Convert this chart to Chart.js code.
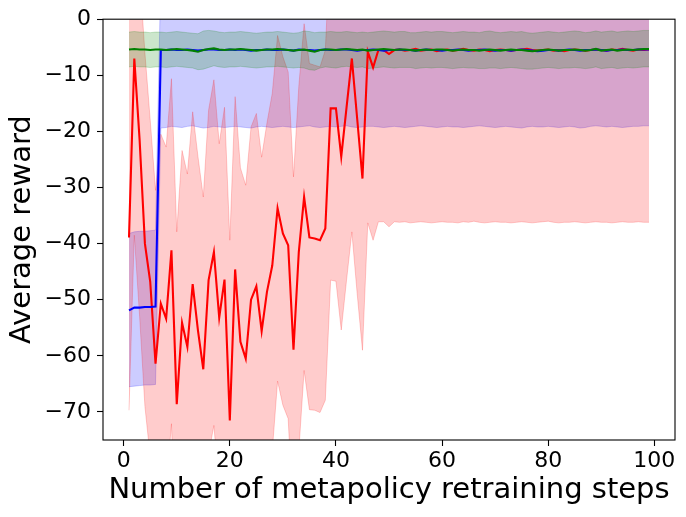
<!DOCTYPE html>
<html>
<head>
<meta charset="utf-8">
<script src="https://cdn.jsdelivr.net/npm/chart.js@4"></script>
<style>
html,body{margin:0;padding:0;background:#fff;}
#wrap{width:686px;height:517px;}
</style>
</head>
<body>
<div id="wrap"><canvas id="c" width="686" height="517"></canvas></div>
<script>
const steps = [1,2,3,4,5,6,7,8,9,10,11,12,13,14,15,16,17,18,19,20,21,22,23,24,25,26,27,28,29,30,31,32,33,34,35,36,37,38,39,40,41,42,43,44,45,46,47,48,49,50,51,52,53,54,55,56,57,58,59,60,61,62,63,64,65,66,67,68,69,70,71,72,73,74,75,76,77,78,79,80,81,82,83,84,85,86,87,88,89,90,91,92,93,94,95,96,97,98,99];

const redMean = [
-38.9,-7.0,-21.5,-40.0,-46.8,-61.4,-50.7,-53.4,-41.2,-68.6,
-54.1,-58.4,-47.2,-55.5,-62.4,-46.5,-41.5,-53.2,-46.4,-71.5,
-44.6,-57.5,-60.5,-50.0,-47.6,-55.6,-48.6,-43.9,-33.7,-38.2,
-40.3,-58.9,-41.5,-31.7,-38.9,-39.1,-39.4,-37.3,-15.9,-15.9,
-24.5,-15.7,-7.0,-17.7,-28.4,-5.8,-8.6,-5.5,-5.5,-6.2,
-5.5,-5.4,-5.6,-5.5,-5.3,-5.6,-5.5,-5.4,-5.7,-5.5,
-5.4,-5.6,-5.5,-5.3,-5.5,-5.6,-5.4,-5.5,-5.7,-5.5,
-5.4,-5.5,-5.6,-5.5,-5.4,-5.3,-5.5,-5.6,-5.5,-5.4,
-5.6,-5.5,-5.7,-5.5,-5.4,-5.5,-5.6,-5.5,-5.4,-5.5,
-5.6,-5.4,-5.5,-5.3,-5.5,-5.6,-5.4,-5.5,-5.4];

const redUpper = [
5.0,24.0,8.0,-6.0,-18.0,-30.5,-20.5,-22.8,-10.6,-37.9,
-23.4,-27.6,-16.5,-24.5,-31.7,-16.2,-10.8,-22.2,-15.7,-39.4,
-13.8,-26.5,-29.6,-19.2,-16.8,-24.6,-18.5,-13.2,-2.9,-6.7,
-9.4,-28.1,-12.0,-0.8,-7.9,-8.2,-8.5,-5.5,15.1,15.1,
6.5,15.3,24.0,13.3,2.4,25.2,22.4,25.5,25.5,24.8,
25.5,25.6,25.4,25.5,25.7,25.4,25.5,25.6,25.3,25.5,
25.6,25.4,25.5,25.7,25.5,25.4,25.6,25.5,25.3,25.5,
25.6,25.5,25.4,25.5,25.6,25.7,25.5,25.4,25.5,25.6,
25.4,25.5,25.3,25.5,25.6,25.5,25.4,25.5,25.6,25.5,
25.4,25.6,25.5,25.7,25.5,25.4,25.6,25.5,25.6];

const redLower = [
-69.7,-38.5,-53.0,-69.0,-78.0,-92.0,-82.0,-84.0,-72.1,-100.0,
-85.0,-89.0,-78.0,-87.0,-93.0,-77.5,-72.4,-84.0,-77.5,-103.0,
-76.0,-88.0,-91.0,-81.0,-78.6,-87.0,-80.0,-77.0,-64.5,-68.8,
-71.2,-90.0,-77.0,-62.6,-69.6,-69.7,-70.1,-67.9,-46.5,-46.7,
-55.4,-46.5,-37.9,-48.9,-59.0,-36.3,-39.4,-36.1,-36.1,-37.0,
-36.1,-36.2,-36.1,-36.3,-36.2,-36.1,-36.2,-36.3,-36.2,-36.1,
-36.2,-36.2,-36.3,-36.1,-36.2,-36.0,-36.2,-36.3,-36.2,-36.1,
-36.2,-36.2,-36.3,-36.2,-36.1,-36.2,-36.3,-36.2,-36.1,-36.0,
-36.2,-36.3,-36.2,-36.2,-36.1,-36.2,-36.3,-36.2,-36.1,-36.2,
-36.2,-36.3,-36.2,-36.1,-36.2,-36.2,-36.1,-36.2,-36.2];

const blueMean = [
-51.9,-51.4,-51.4,-51.3,-51.3,-51.2,-5.5,-5.5,-5.4,-5.5,
-5.5,-5.4,-5.5,-5.6,-5.5,-5.4,-5.4,-5.5,-5.5,-5.4,
-5.5,-5.4,-5.5,-5.6,-5.5,-5.5,-5.4,-5.5,-5.5,-5.4,
-5.5,-5.6,-5.4,-5.5,-5.5,-5.6,-5.5,-5.4,-5.5,-5.5,
-5.4,-5.4,-5.5,-5.6,-5.5,-5.5,-5.4,-5.5,-5.6,-5.5,
-5.5,-5.4,-5.5,-5.5,-5.6,-5.5,-5.4,-5.5,-5.5,-5.6,
-5.5,-5.5,-5.4,-5.5,-5.6,-5.5,-5.5,-5.4,-5.5,-5.6,
-5.5,-5.5,-5.6,-5.5,-5.4,-5.5,-5.6,-5.7,-5.6,-5.5,
-5.5,-5.6,-5.5,-5.4,-5.5,-5.6,-5.5,-5.5,-5.4,-5.5,
-5.6,-5.5,-5.5,-5.4,-5.5,-5.5,-5.4,-5.4,-5.4];

const blueUpper = [
-38.2,-37.9,-37.8,-37.8,-37.7,-37.6,8.2,8.2,8.3,8.2,
8.2,8.3,8.2,8.1,8.2,8.3,8.3,8.2,8.2,8.3,
8.2,8.3,8.2,8.1,8.2,8.2,8.3,8.2,8.2,8.3,
8.2,8.1,8.3,8.2,8.2,8.1,8.2,8.3,8.2,8.2,
8.3,8.3,8.2,8.1,8.2,8.2,8.3,8.2,8.1,8.2,
8.2,8.3,8.2,8.2,8.1,8.2,8.3,8.2,8.2,8.1,
8.2,8.2,8.3,8.2,8.1,8.2,8.2,8.3,8.2,8.1,
8.2,8.2,8.1,8.2,8.3,8.2,8.1,8.0,8.1,8.2,
8.2,8.1,8.2,8.3,8.2,8.1,8.2,8.2,8.3,8.2,
8.1,8.2,8.2,8.3,8.2,8.2,8.3,8.3,8.3];

const blueLower = [
-65.5,-65.4,-65.3,-65.2,-65.2,-65.1,-19.4,-19.3,-19.1,-19.2,
-19.3,-19.1,-19.0,-19.2,-19.4,-19.3,-19.1,-19.2,-19.3,-19.2,
-19.1,-19.2,-19.3,-19.4,-19.2,-19.1,-19.2,-19.3,-19.2,-19.1,
-19.2,-19.3,-19.2,-19.1,-19.0,-19.2,-19.3,-19.2,-19.1,-19.2,
-19.1,-19.0,-19.2,-19.3,-19.2,-19.1,-19.1,-19.2,-19.3,-19.2,
-19.1,-19.2,-19.3,-19.2,-19.1,-19.0,-19.1,-19.2,-19.3,-19.2,
-19.1,-19.2,-19.2,-19.3,-19.2,-19.1,-19.0,-19.1,-19.2,-19.3,
-19.2,-19.1,-19.2,-19.3,-19.4,-19.2,-19.1,-19.2,-19.2,-19.1,
-19.2,-19.3,-19.2,-19.1,-19.2,-19.4,-19.3,-19.1,-19.0,-19.1,
-19.2,-19.1,-19.2,-19.3,-19.2,-19.1,-19.1,-19.0,-19.0];

const greenMean = [
-5.4,-5.3,-5.4,-5.4,-5.5,-5.4,-5.4,-5.5,-5.4,-5.3,
-5.4,-5.5,-5.6,-5.8,-5.5,-5.3,-5.2,-5.4,-5.5,-5.4,
-5.4,-5.3,-5.4,-5.5,-5.6,-5.5,-5.4,-5.4,-5.3,-5.4,
-5.5,-5.6,-5.5,-5.4,-5.6,-5.8,-5.5,-5.4,-5.4,-5.5,
-5.4,-5.3,-5.4,-5.5,-5.4,-5.6,-5.5,-5.4,-5.3,-5.4,
-5.5,-5.4,-5.4,-5.5,-5.6,-5.5,-5.4,-5.5,-5.4,-5.4,
-5.5,-5.6,-5.5,-5.4,-5.5,-5.5,-5.6,-5.5,-5.4,-5.5,
-5.6,-5.5,-5.4,-5.5,-5.5,-5.6,-5.7,-5.6,-5.5,-5.4,
-5.5,-5.6,-5.5,-5.5,-5.4,-5.5,-5.6,-5.5,-5.3,-5.6,
-5.5,-5.4,-5.6,-5.5,-5.4,-5.5,-5.4,-5.3,-5.3];

const greenUpper = [
-2.3,-2.2,-2.3,-2.3,-2.4,-2.3,-2.3,-2.4,-2.3,-2.2,
-2.3,-2.4,-2.5,-2.6,-2.1,-2.0,-2.1,-2.3,-2.4,-2.3,
-2.3,-2.2,-2.3,-2.4,-2.5,-2.4,-2.3,-2.3,-2.2,-2.3,
-2.4,-2.5,-2.4,-2.1,-2.2,-2.4,-2.3,-2.3,-2.2,-2.3,
-2.3,-2.2,-2.3,-2.4,-2.3,-2.4,-2.3,-2.2,-2.1,-2.2,
-2.3,-2.2,-2.2,-2.4,-2.4,-2.3,-2.2,-2.3,-2.2,-2.2,
-2.3,-2.4,-2.3,-2.2,-2.3,-2.3,-2.4,-2.2,-2.1,-2.3,
-2.4,-2.3,-2.2,-2.3,-2.2,-2.4,-2.5,-2.4,-2.3,-2.2,
-2.3,-2.4,-2.3,-2.2,-2.1,-2.2,-2.4,-2.3,-2.1,-2.3,
-2.2,-2.1,-2.3,-2.2,-2.1,-2.2,-2.1,-2.0,-2.0];

const greenLower = [
-8.5,-8.4,-8.5,-8.5,-8.6,-8.5,-8.5,-8.6,-8.5,-8.4,
-8.5,-8.6,-8.7,-9.0,-8.9,-8.6,-8.3,-8.5,-8.6,-8.5,
-8.5,-8.4,-8.5,-8.6,-8.7,-8.6,-8.5,-8.5,-8.4,-8.5,
-8.6,-8.7,-8.6,-8.7,-9.0,-9.1,-8.7,-8.5,-8.6,-8.7,
-8.5,-8.4,-8.5,-8.6,-8.5,-8.8,-8.7,-8.6,-8.5,-8.6,
-8.7,-8.6,-8.6,-8.6,-8.8,-8.7,-8.6,-8.7,-8.6,-8.6,
-8.7,-8.8,-8.7,-8.6,-8.7,-8.7,-8.8,-8.8,-8.7,-8.7,
-8.8,-8.7,-8.6,-8.7,-8.8,-8.9,-8.9,-8.8,-8.7,-8.6,
-8.7,-8.8,-8.7,-8.7,-8.6,-8.7,-8.8,-8.7,-8.5,-8.8,
-8.7,-8.6,-8.8,-8.7,-8.6,-8.7,-8.6,-8.5,-8.5];

const xTickValues = [0, 20, 40, 60, 80, 100];
const xTickLabels = ['0', '20', '40', '60', '80', '100'];
const yTickValues = [0, -10, -20, -30, -40, -50, -60, -70];
const yTickLabels = ['0', '\u221210', '\u221220', '\u221230', '\u221240', '\u221250', '\u221260', '\u221270'];
const xTitle = 'Number of metapolicy retraining steps';
const yTitle = 'Average reward';

const pts = arr => steps.map((s, i) => ({x: s, y: arr[i]}));

function bandUpper(arr, rgb, order, targetIndex) {
  return {data: pts(arr), borderColor: `rgba(${rgb},0.2)`, borderWidth: 1,
    backgroundColor: `rgba(${rgb},0.2)`, fill: {target: targetIndex}, pointRadius: 0, tension: 0, order};
}
function bandLower(arr, rgb, order) {
  return {data: pts(arr), borderColor: `rgba(${rgb},0.2)`, borderWidth: 1,
    fill: false, pointRadius: 0, tension: 0, order};
}
function meanLine(arr, color, order) {
  return {data: pts(arr), borderColor: color, borderWidth: 2.1, fill: false,
    pointRadius: 0, tension: 0, order};
}

const datasets = [
  bandUpper(blueUpper, '0,0,255', 9, 1),
  bandLower(blueLower, '0,0,255', 8),
  bandUpper(redUpper, '255,0,0', 7, 3),
  bandLower(redLower, '255,0,0', 6),
  bandUpper(greenUpper, '0,128,0', 5, 5),
  bandLower(greenLower, '0,128,0', 4),
  meanLine(redMean, '#ff0000', 3),
  meanLine(blueMean, '#0000ff', 2),
  meanLine(greenMean, '#008000', 1)
];

const boxPlugin = {
  id: 'box',
  afterDraw(chart) {
    const {ctx, chartArea: a} = chart;
    ctx.save();
    ctx.strokeStyle = '#000';
    ctx.lineWidth = 1.1;
    ctx.strokeRect(a.left, a.top, a.right - a.left, a.bottom - a.top);
    ctx.restore();
  }
};

const fontFam = "'DejaVu Sans', sans-serif";

new Chart(document.getElementById('c'), {
  type: 'line',
  data: {datasets},
  plugins: [boxPlugin],
  options: {
    responsive: false,
    animation: false,
    devicePixelRatio: 1,
    layout: {padding: {left: 0, top: 19, right: 11, bottom: 0}},
    plugins: {legend: {display: false}, tooltip: {enabled: false}},
    scales: {
      x: {
        type: 'linear', min: -3.9, max: 103.9,
        afterBuildTicks: s => { s.ticks = xTickValues.map(v => ({value: v})); },
        afterFit: s => { s.height = 77; },
        grid: {drawOnChartArea: false, drawTicks: true, tickLength: 6, color: '#000', tickWidth: 1.1},
        border: {display: false},
        ticks: {color: '#000', font: {family: fontFam, size: 22}, padding: 2, maxRotation: 0,
          callback: (v, i) => xTickLabels[i]},
        title: {display: true, text: xTitle, color: '#000', font: {family: fontFam, size: 29},
          padding: {top: 0, bottom: 9}}
      },
      y: {
        type: 'linear', min: -75, max: 0,
        afterBuildTicks: s => { s.ticks = yTickValues.map(v => ({value: v})); },
        afterFit: s => { s.width = 103; },
        grid: {drawOnChartArea: false, drawTicks: true, tickLength: 6, color: '#000', tickWidth: 1.1},
        border: {display: false},
        ticks: {color: '#000', font: {family: fontFam, size: 22}, padding: 6,
          callback: (v, i) => yTickLabels[i]},
        title: {display: true, text: yTitle, color: '#000', font: {family: fontFam, size: 29},
          padding: {top: 5, bottom: 0}}
      }
    }
  }
});
</script>
</body>
</html>
